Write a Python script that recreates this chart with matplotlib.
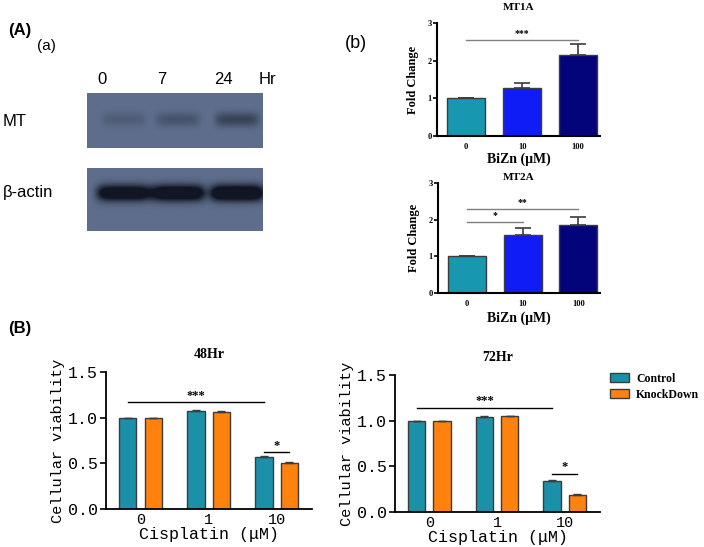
import matplotlib.pyplot as plt
import matplotlib.patches as mpatches
import numpy as np

# figure size in pixels (dpi 100)
W, H = 704, 547

# ---- data ----
blot_lanes = ["0", "7", "24"]
mt_band = [0.2, 0.3, 0.5]             # relative MT band darkness per lane
actin_band = [1.5, 1.6, 1.7]          # relative beta-actin band darkness (saturated)

bizn_doses = ["0", "10", "100"]
mt1a_mean = [1.0, 1.27, 2.16]
mt1a_err = [0.0, 0.14, 0.29]
mt2a_mean = [1.0, 1.58, 1.85]
mt2a_err = [0.0, 0.19, 0.22]

cis_doses = ["0", "1", "10"]
ctrl_48 = [1.0, 1.073, 0.57]
ctrl_48_err = [0.0, 0.015, 0.005]
kd_48 = [1.0, 1.065, 0.505]
kd_48_err = [0.0, 0.005, 0.005]
ctrl_72 = [1.0, 1.045, 0.335]
ctrl_72_err = [0.0, 0.006, 0.01]
kd_72 = [1.0, 1.05, 0.185]
kd_72_err = [0.0, 0.004, 0.015]

SERIF = "Liberation Serif"
MONO = "Liberation Mono"
SANS = "Liberation Sans"

bizn_colors = ["#1797b0", "#0f1cf5", "#03037a"]
ctrl_color = "#1a90a9"
kd_color = "#ff820f"
edge = "#3c3c3c"


def box(x0, y0, x1, y1):
    return [x0 / W, 1 - y1 / H, (x1 - x0) / W, (y1 - y0) / H]


def fx(x):
    return x / W


def fy(y):
    return 1 - y / H


fig = plt.figure(figsize=(W / 100, H / 100), dpi=100)

# ---------------- (A)(a) western blot ----------------
fig.text(fx(8), fy(31), "(A)", fontsize=12, fontweight="bold", family=SANS, va="center")
fig.text(fx(37), fy(46), "(a)", fontsize=11, family=SANS, va="center")
for lab, x in zip(blot_lanes + ["Hr"], [102, 162, 223, 267]):
    fig.text(fx(x), fy(79), lab, fontsize=12, family=SANS, ha="center", va="center")
fig.text(fx(3), fy(122), "MT", fontsize=12, family=SANS, va="center")
fig.text(fx(3), fy(192), "β-actin", fontsize=12, family=SANS, va="center")

bg = np.array([94, 110, 140]) / 255
dark = np.array([18, 22, 34]) / 255
lane_cx = [37, 91, 150]


def draw_blot(rect, strengths, cy, hw, hh):
    x0, y0, x1, y1 = rect
    bw, bh = x1 - x0, y1 - y0
    xx, yy = np.meshgrid(np.arange(bw) + 0.5, np.arange(bh) + 0.5)
    m = np.zeros((bh, bw))
    for cx, s in zip(lane_cx, strengths):
        m += s * np.exp(-((xx - cx) / hw) ** 6 - ((yy - cy) / hh) ** 2)
    m = np.clip(m, 0, 1)[..., None]
    img = bg * (1 - m) + dark * m
    ax = fig.add_axes(box(*rect))
    ax.imshow(img, aspect="auto", interpolation="bilinear")
    ax.set_axis_off()


draw_blot((87, 93, 263, 148), mt_band, 27, 22, 7)
draw_blot((87, 168, 263, 231), actin_band, 25, 27, 8)

fig.text(fx(345), fy(44), "(b)", fontsize=13, family=SANS, va="center")


# ---------------- (A)(b) fold change bars ----------------
def fold_panel(rect, title, means, errs, sigs, title_y, xlab_y):
    ax = fig.add_axes(box(*rect))
    x = np.arange(len(bizn_doses))
    ax.bar(x, means, width=0.68, color=bizn_colors, edgecolor=edge, linewidth=1.0)
    ax.errorbar(x, means, yerr=[np.zeros(len(errs)), errs], fmt="none",
                ecolor=edge, elinewidth=1.2, capsize=6, capthick=1.2)
    ax.set_xlim(-0.52, 2.39)
    ax.set_ylim(0, 3)
    ax.set_yticks([0, 1, 2, 3])
    ax.set_xticks(x)
    ax.set_xticklabels(bizn_doses)
    for s in ["top", "right"]:
        ax.spines[s].set_visible(False)
    for s in ["left", "bottom"]:
        ax.spines[s].set_linewidth(1.5)
    ax.tick_params(axis="y", length=3, width=1.2, labelsize=6, pad=1)
    ax.tick_params(axis="x", length=0, labelsize=6, pad=5)
    for t in ax.get_xticklabels() + ax.get_yticklabels():
        t.set_family(SERIF)
        t.set_fontweight("bold")
    ax.set_ylabel("Fold Change", fontsize=9, family=SERIF, fontweight="bold", labelpad=6)
    for (a, b, y, lab) in sigs:
        ax.plot([a, b], [y, y], color="#808080", lw=1.0, clip_on=False)
        ax.text((a + b) / 2, y + 0.06, lab, fontsize=7, family=SERIF,
                fontweight="bold", ha="center", va="bottom")
    cx = rect[0] + (rect[2] - rect[0]) / 2
    fig.text(fx(cx), fy(title_y), title, fontsize=8, family=SERIF,
             fontweight="bold", ha="center", va="center")
    fig.text(fx(cx), fy(xlab_y), "BiZn (μM)", fontsize=10, family=SERIF,
             fontweight="bold", ha="center", va="center")
    return ax


fold_panel((437, 23, 600, 136), "MT1A", mt1a_mean, mt1a_err,
           [(0, 2, 2.55, "***")], 8, 159)
fold_panel((438, 183, 600, 293), "MT2A", mt2a_mean, mt2a_err,
           [(0, 2, 2.29, "**"), (0, 1, 1.93, "*")], 177, 318)

fig.text(fx(8), fy(328), "(B)", fontsize=12, fontweight="bold", family=SANS, va="center")


# ---------------- (B) viability bars ----------------
def viability_panel(rect, title, ctrl, ctrl_err, kd, kd_err, sigs):
    ax = fig.add_axes(box(*rect))
    x = np.arange(len(cis_doses))
    off, bw = 0.1875, 0.257
    ax.bar(x - off, ctrl, width=bw, color=ctrl_color, edgecolor=edge, linewidth=1.0, label="Control")
    ax.bar(x + off, kd, width=bw, color=kd_color, edgecolor=edge, linewidth=1.0, label="KnockDown")
    ax.errorbar(x - off, ctrl, yerr=[np.zeros(3), ctrl_err], fmt="none",
                ecolor=edge, elinewidth=1.0, capsize=3, capthick=1.0)
    ax.errorbar(x + off, kd, yerr=[np.zeros(3), kd_err], fmt="none",
                ecolor=edge, elinewidth=1.0, capsize=3, capthick=1.0)
    ax.set_xlim(-0.507, 2.52)
    ax.set_ylim(0, 1.5)
    ax.set_yticks([0, 0.5, 1.0, 1.5])
    ax.set_yticklabels(["0.0", "0.5", "1.0", "1.5"])
    ax.set_xticks(x)
    ax.set_xticklabels(cis_doses)
    for s in ["top", "right"]:
        ax.spines[s].set_visible(False)
    for s in ["left", "bottom"]:
        ax.spines[s].set_linewidth(1.3)
    ax.tick_params(axis="y", length=4, width=1.2, labelsize=12, pad=2)
    ax.tick_params(axis="x", length=0, labelsize=11, pad=3)
    for t in ax.get_xticklabels() + ax.get_yticklabels():
        t.set_family(MONO)
    ax.set_ylabel("Cellular viability", fontsize=11, family=MONO, labelpad=2)
    ax.set_xlabel("Cisplatin (μM)", fontsize=12, family=MONO, labelpad=0)
    ax.set_title(title, fontsize=10, family=SERIF, fontweight="bold", pad=10)
    for (a, b, y, lab) in sigs:
        ax.plot([a, b], [y, y], color="black", lw=1.0, clip_on=False)
        ax.text((a + b) / 2, y + 0.005, lab, fontsize=9, family=SERIF,
                fontweight="bold", ha="center", va="bottom")
    return ax


viability_panel((106, 372, 312, 509), "48Hr", ctrl_48, ctrl_48_err, kd_48, kd_48_err,
                [(-0.1875, 1.8125, 1.17, "***"), (1.8125, 2.1875, 0.62, "*")])
viability_panel((395, 375, 600, 512), "72Hr", ctrl_72, ctrl_72_err, kd_72, kd_72_err,
                [(-0.1875, 1.8125, 1.14, "***"), (1.8125, 2.1875, 0.42, "*")])

handles = [mpatches.Patch(facecolor=ctrl_color, edgecolor=edge, label="Control"),
           mpatches.Patch(facecolor=kd_color, edgecolor=edge, label="KnockDown")]
fig.legend(handles=handles, loc="upper left", bbox_to_anchor=(fx(610), fy(373)),
           frameon=False, handlelength=1.6, handleheight=0.8, handletextpad=0.6,
           labelspacing=0.3, borderaxespad=0, borderpad=0,
           prop={"family": SERIF, "weight": "bold", "size": 8.5})

plt.savefig("out.png", dpi=100)
